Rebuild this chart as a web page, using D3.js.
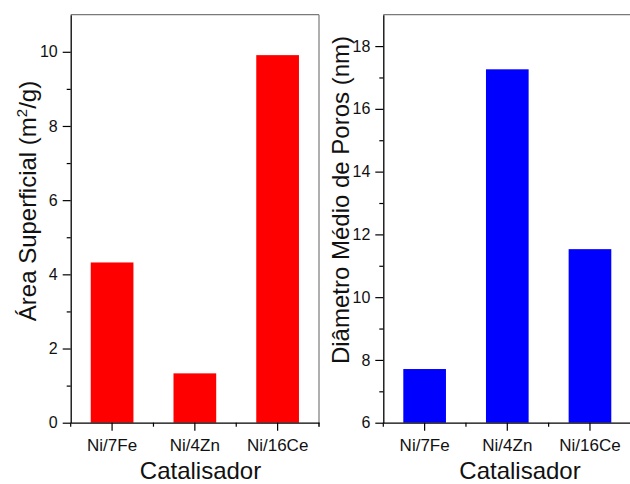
<!DOCTYPE html>
<html><head><meta charset="utf-8">
<script src="https://cdn.jsdelivr.net/npm/d3@7"></script>
<style>body{margin:0;background:#fff}svg{display:block;font-family:Arial,"Liberation Sans",sans-serif}</style>
</head><body><svg id="c" width="630" height="484"></svg>
<script>
const categories = ["Ni/7Fe", "Ni/4Zn", "Ni/16Ce"];
const areaValues = [4.32, 1.33, 9.91];
const poreValues = [7.71, 17.26, 11.53];
const areaTicks = [0, 2, 4, 6, 8, 10];
const areaMinor = [1, 3, 5, 7, 9];
const poreTicks = [6, 8, 10, 12, 14, 16, 18];
const poreMinor = [7, 9, 11, 13, 15, 17];

const svg = d3.select("#c");

function panel(opt) {
  const g = svg.append("g");
  const x = d3.scaleBand().domain(categories).range([opt.x0, opt.x1])
    .paddingInner(0.484).paddingOuter(0.242);
  const y = d3.scaleLinear().domain(opt.domain).range([opt.yb, opt.yt]);

  // bars
  g.selectAll("rect.bar").data(categories).join("rect")
    .attr("x", d => x(d)).attr("width", x.bandwidth())
    .attr("y", (d, i) => y(opt.values[i]))
    .attr("height", (d, i) => y(opt.domain[0]) - y(opt.values[i]))
    .attr("fill", opt.color);

  // frame top/right
  g.append("line").attr("x1", opt.x0).attr("x2", opt.x1).attr("y1", opt.yt).attr("y2", opt.yt)
    .attr("stroke", "#7a7a7a").attr("stroke-width", 1.2);
  g.append("line").attr("x1", opt.x1).attr("x2", opt.x1).attr("y1", opt.yt).attr("y2", opt.yb + 4)
    .attr("stroke", "#7a7a7a").attr("stroke-width", 1.2);

  // y axis major
  const ya = g.append("g").attr("transform", `translate(${opt.x0},0)`)
    .call(d3.axisLeft(y).tickValues(opt.ticks).tickSize(8).tickPadding(5).tickSizeOuter(0));
  ya.select(".domain").attr("stroke", "#000").attr("stroke-width", 1.3);
  ya.selectAll(".tick line").attr("stroke", "#000").attr("stroke-width", 1.2);
  ya.selectAll(".tick text").attr("font-size", 16).attr("fill", "#111")
    .attr("font-family", "Arial, 'Liberation Sans', sans-serif");
  // y minor
  const ym = g.append("g").attr("transform", `translate(${opt.x0},0)`)
    .call(d3.axisLeft(y).tickValues(opt.minor).tickSize(4).tickFormat(""));
  ym.select(".domain").remove();
  ym.selectAll(".tick line").attr("stroke", "#000").attr("stroke-width", 1.2);

  // x axis
  const xa = g.append("g").attr("transform", `translate(0,${opt.yb})`)
    .call(d3.axisBottom(x).tickSize(8).tickPadding(8).tickSizeOuter(0));
  xa.select(".domain").attr("stroke", "#000").attr("stroke-width", 1.3);
  xa.selectAll(".tick line").attr("stroke", "#000").attr("stroke-width", 1.2);
  xa.selectAll(".tick text").attr("font-size", 17).attr("fill", "#111")
    .attr("font-family", "Arial, 'Liberation Sans', sans-serif");
  // x minor ticks at category boundaries
  const bounds = d3.range(categories.length + 1).map(i => opt.x0 + i * x.step());
  g.selectAll("line.xm").data(bounds).join("line")
    .attr("x1", d => d).attr("x2", d => d)
    .attr("y1", opt.yb).attr("y2", opt.yb + 4)
    .attr("stroke", "#000").attr("stroke-width", 1.2);

  // y title
  const yt = g.append("text")
    .attr("transform", `translate(${opt.ylx},${opt.yly}) rotate(-90)`)
    .attr("text-anchor", "middle").attr("font-size", 24).attr("fill", "#111");
  opt.ytitle(yt);

  // x title
  g.append("text").attr("x", opt.xlx).attr("y", 479).attr("text-anchor", "middle")
    .attr("font-size", 24).attr("fill", "#111").text("Catalisador");
}

panel({
  x0: 70.7, x1: 319, yt: 14.7, yb: 422.7, domain: [0, 11],
  values: areaValues, color: "#ff0000", ticks: areaTicks, minor: areaMinor,
  ylx: 35.5, yly: 201, xlx: 200.5,
  ytitle: t => {
    t.append("tspan").text("Área Superficial (m");
    t.append("tspan").attr("font-size", 15).attr("dy", -9).text("2");
    t.append("tspan").attr("dy", 9).text("/g)");
  }
});

panel({
  x0: 383.3, x1: 631.3, yt: 14.7, yb: 422.7, domain: [6, 19],
  values: poreValues, color: "#0000ff", ticks: poreTicks, minor: poreMinor,
  ylx: 348.5, yly: 200, xlx: 520,
  ytitle: t => t.text("Diâmetro Médio de Poros (nm)")
});
</script></body></html>
